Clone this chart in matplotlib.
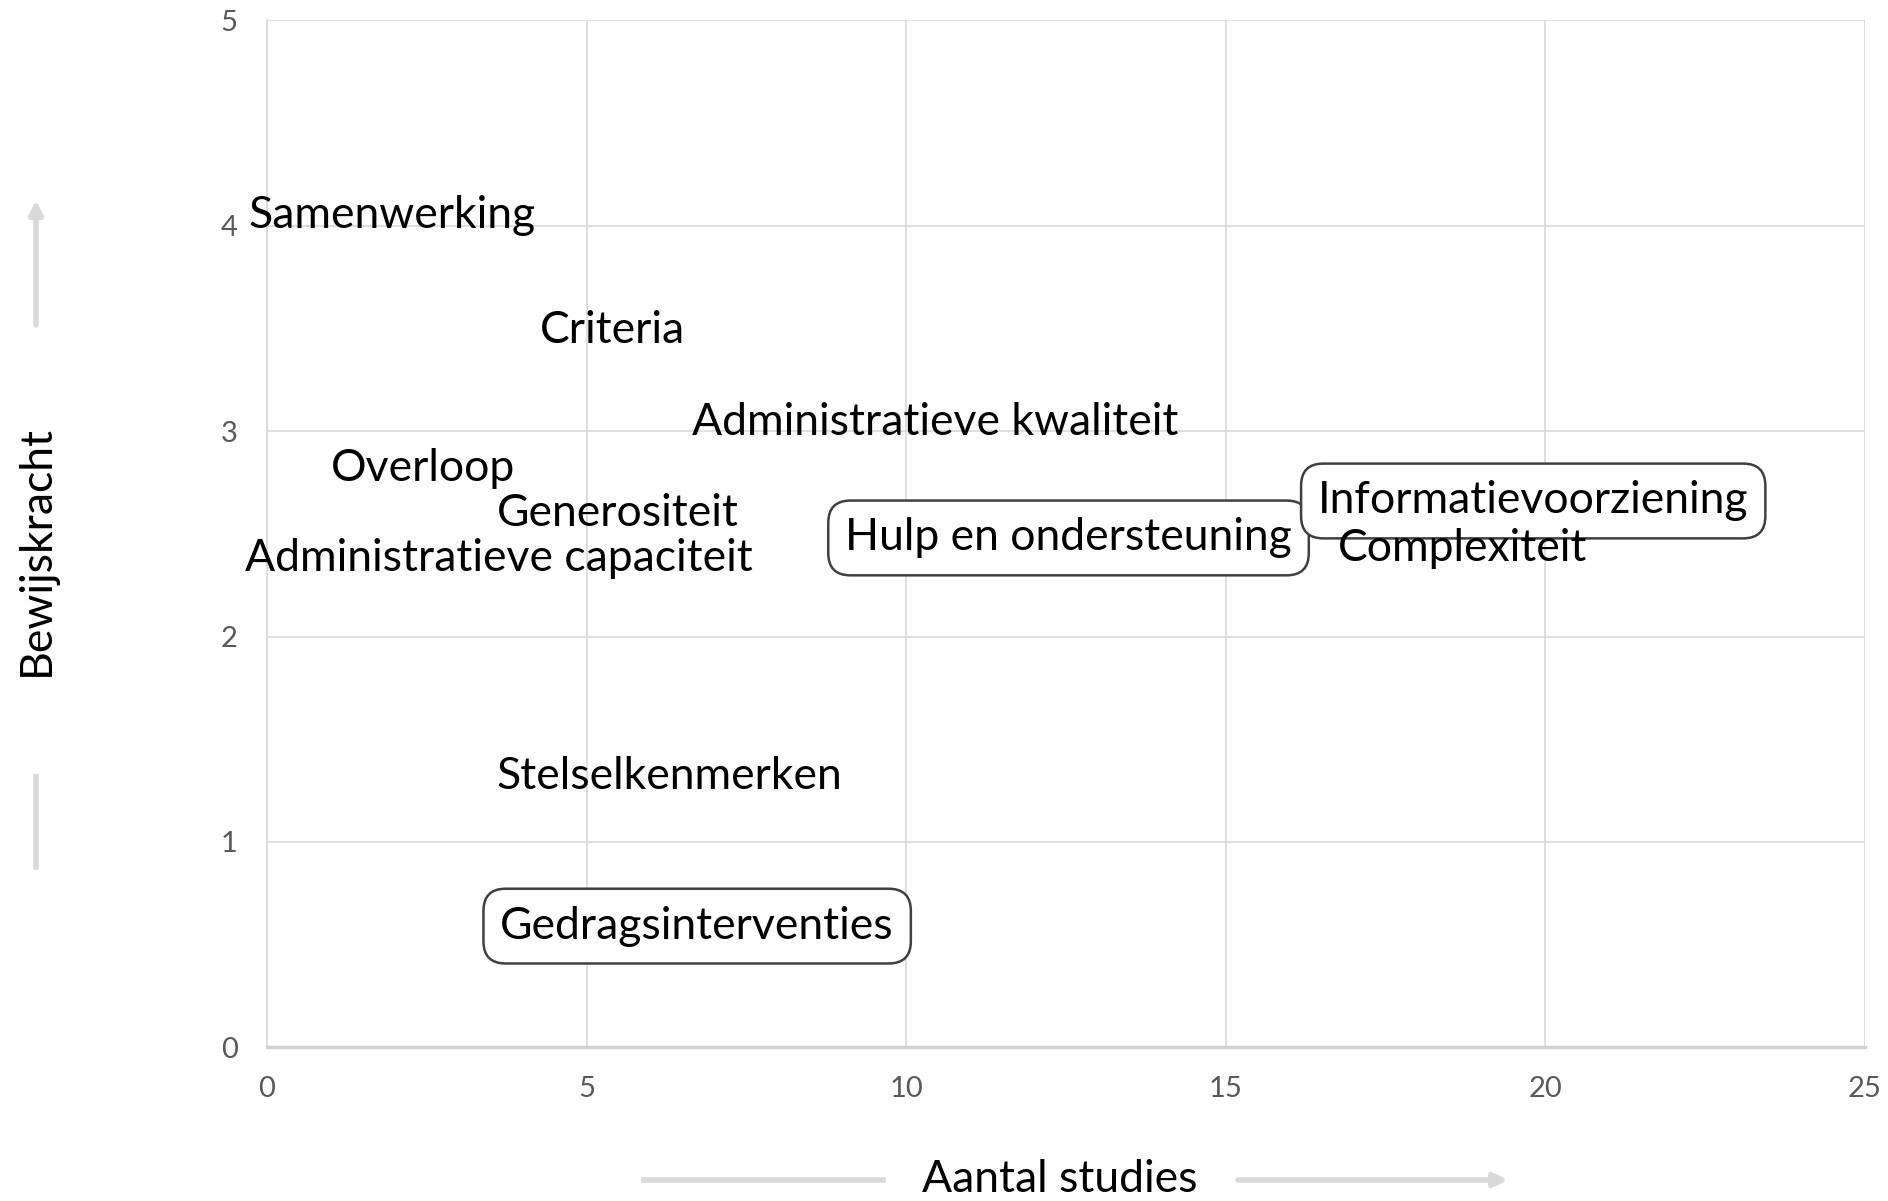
import matplotlib
matplotlib.use("Agg")
import matplotlib.pyplot as plt

plt.rcParams['font.family'] = ['Lato', 'DejaVu Sans']

# labels with their (aantal studies, bewijskracht) position
labels = ['Samenwerking', 'Criteria', 'Administratieve kwaliteit', 'Overloop',
          'Generositeit', 'Administratieve capaciteit', 'Hulp en ondersteuning',
          'Informatievoorziening', 'Complexiteit', 'Stelselkenmerken',
          'Gedragsinterventies']
studies = [1.96, 5.4, 10.45, 2.44, 5.49, 3.63, 12.54, 19.81, 18.71, 6.30, 6.73]
kracht = [4.05, 3.49, 3.04, 2.82, 2.60, 2.38, 2.48, 2.66, 2.43, 1.32, 0.59]
boxed = ['Hulp en ondersteuning', 'Informatievoorziening', 'Gedragsinterventies']

xticks = [0, 5, 10, 15, 20, 25]
yticks = [0, 1, 2, 3, 4, 5]

grid_c = '#d9d9d9'
tick_c = '#595959'

fig = plt.figure(figsize=(18.88, 12.01), dpi=100)
ax = fig.add_axes([0.1414, 0.128, 0.8464, 0.855])

ax.set_xlim(0, 25)
ax.set_ylim(0, 5)
ax.set_xticks(xticks)
ax.set_yticks(yticks)
ax.grid(True, color=grid_c, lw=1.2)
ax.set_axisbelow(True)
for s in ['top', 'right']:
    ax.spines[s].set_visible(False)
ax.spines['left'].set_color(grid_c)
ax.spines['left'].set_linewidth(1.2)
ax.spines['bottom'].set_color('#d0d0d0')
ax.spines['bottom'].set_linewidth(2.5)
ax.tick_params(length=0, labelsize=21, colors=tick_c)
ax.tick_params(axis='y', pad=21)
ax.tick_params(axis='x', pad=21)

for lab, x, y in zip(labels, studies, kracht):
    kw = {}
    if lab in boxed:
        kw['bbox'] = dict(boxstyle='round,pad=0.38,rounding_size=0.5',
                          fc='white', ec='#404040', lw=1.8)
    ax.text(x, y, lab, ha='center', va='center', fontsize=32, color='black',
            zorder=5, **kw)

# axis titles with light grey arrows
fig.text(1060/1888, 1-1180/1201, 'Aantal studies', ha='center', va='center',
         fontsize=32)
fig.text(36/1888, 1-550/1201, 'Bewijskracht', ha='center', va='center',
         fontsize=32, rotation=90)

arrow_c = '#d9d9d9'
fig.add_artist(plt.Line2D([644/1888, 883/1888], [1-1180/1201]*2,
                          color=arrow_c, lw=4, transform=fig.transFigure))
fig.add_artist(plt.Line2D([36/1888]*2, [1-777/1201, 1-867/1201],
                          color=arrow_c, lw=4, transform=fig.transFigure))
ax.annotate('', xy=(1508/1888, 1-1180/1201), xytext=(1238/1888, 1-1180/1201),
            xycoords='figure fraction', textcoords='figure fraction',
            arrowprops=dict(arrowstyle='-|>,head_length=0.8,head_width=0.4',
                            color=arrow_c, lw=4, shrinkA=0, shrinkB=0))
ax.annotate('', xy=(36/1888, 1-200/1201), xytext=(36/1888, 1-325/1201),
            xycoords='figure fraction', textcoords='figure fraction',
            arrowprops=dict(arrowstyle='-|>,head_length=0.8,head_width=0.4',
                            color=arrow_c, lw=4, shrinkA=0, shrinkB=0))

fig.savefig('out.png', dpi=100)
